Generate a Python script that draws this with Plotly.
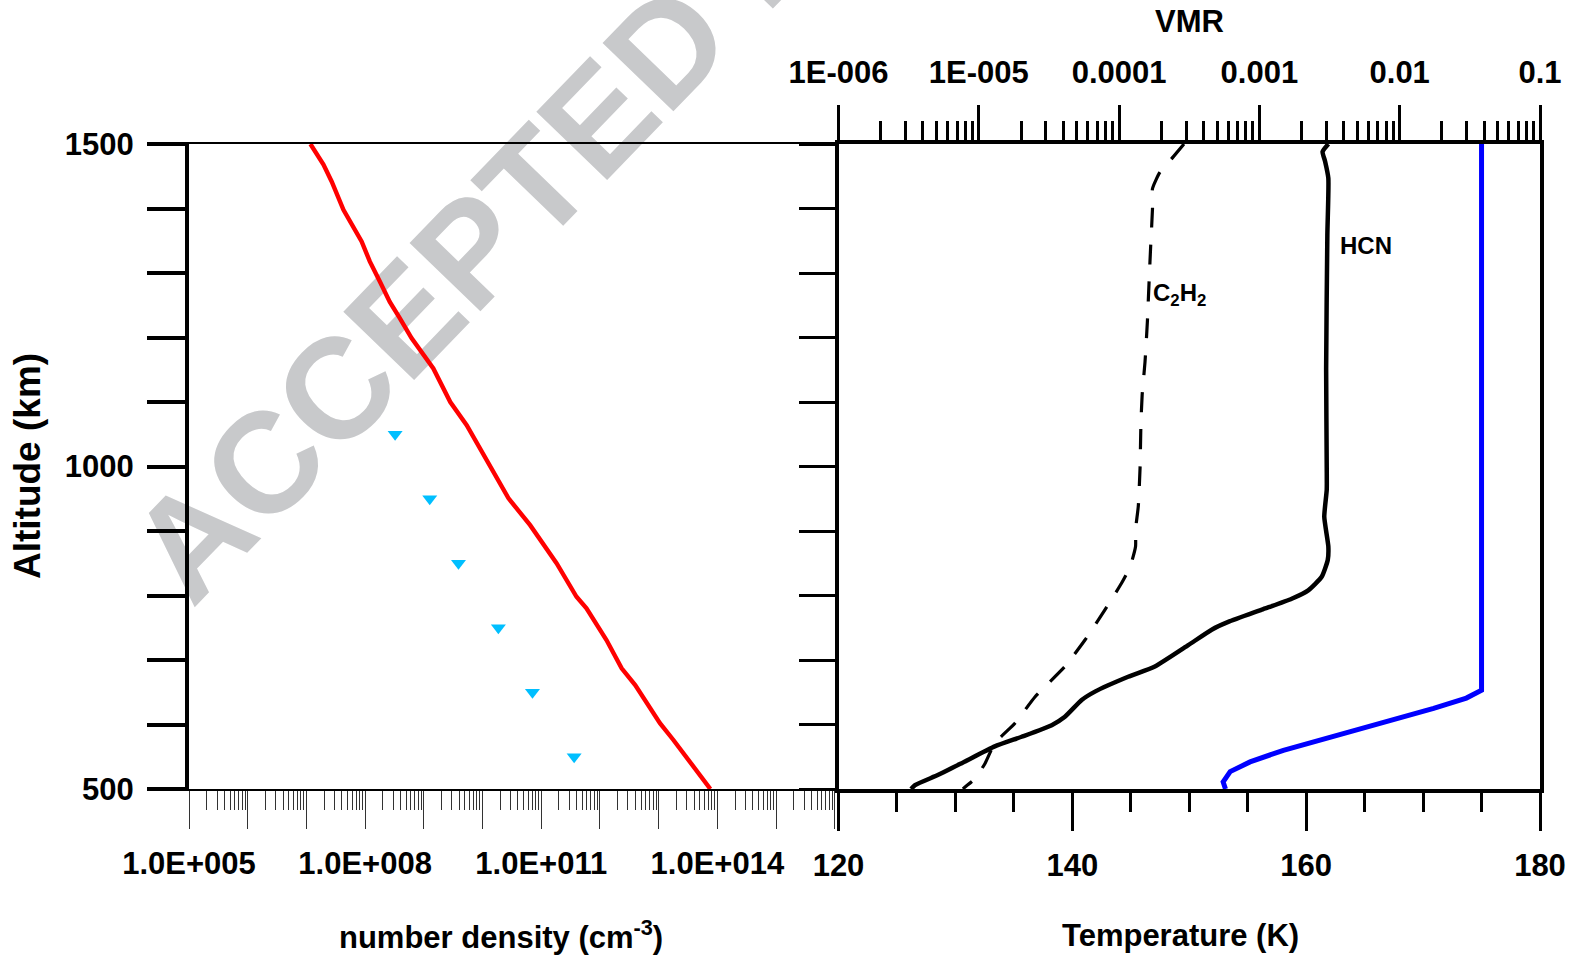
import math
import plotly.graph_objects as go

# ---- Left panel: number density profile (cm^-3) vs altitude (km) ----
density_alt = [1500, 1468, 1442, 1398, 1349, 1318, 1287, 1255, 1230, 1199, 1152, 1100, 1064,
               1010, 951, 909, 850, 798, 780, 731, 687, 661, 602, 576, 535, 500]
density_n = [1.17e7, 1.95e7, 2.69e7, 4.27e7, 8.71e7, 1.20e8, 1.78e8, 2.63e8, 3.89e8, 6.17e8,
             1.45e9, 2.82e9, 5.37e9, 1.17e10, 2.75e10, 6.46e10, 1.82e11, 3.98e11, 5.89e11,
             1.29e12, 2.34e12, 3.98e12, 1.05e13, 1.78e13, 3.89e13, 7.59e13]

# measured densities (triangles)
meas_alt = [1050, 950, 850, 750, 650, 550]
meas_n = [3.24e8, 1.26e9, 3.89e9, 1.86e10, 7.08e10, 3.63e11]

# ---- Right panel: temperature (K) ----
temp_alt = [500, 511, 527, 542, 560, 581, 602, 625, 641, 653, 1500]
temp_K = [153.1, 152.9, 153.5, 155.2, 158.05, 162.3, 166.6, 170.9, 173.7, 175.0, 175.0]

# ---- Right panel: volume mixing ratios ----
hcn_alt = [1500, 1488, 1473, 1447, 1359, 1152, 997, 964, 922, 876, 855, 829, 808, 795, 778,
           759, 747, 723, 690, 674, 651, 638, 612, 599, 581, 566, 540, 522, 506, 500]
hcn_vmr = [3.10e-3, 2.82e-3, 2.94e-3, 3.10e-3, 3.05e-3, 2.99e-3, 3.02e-3, 3.02e-3, 2.90e-3,
           3.10e-3, 3.07e-3, 2.78e-3, 2.23e-3, 1.70e-3, 1.04e-3, 6.00e-4, 4.57e-4, 3.11e-4,
           1.80e-4, 1.16e-4, 6.73e-5, 5.41e-5, 4.11e-5, 3.31e-5, 2.02e-5, 1.30e-5, 7.55e-6,
           5.14e-6, 3.51e-6, 3.29e-6]

c2h2_alt = [1500, 1480, 1456, 1431, 1400, 1343, 1292, 1224, 1162, 1111, 1064, 997, 938, 902,
            876, 845, 819, 778, 731, 690, 643, 602, 571, 540, 516, 503, 500]
c2h2_vmr = [2.90e-4, 2.43e-4, 1.95e-4, 1.73e-4, 1.73e-4, 1.68e-4, 1.64e-4, 1.59e-4, 1.53e-4,
            1.46e-4, 1.43e-4, 1.41e-4, 1.37e-4, 1.31e-4, 1.31e-4, 1.20e-4, 1.04e-4, 7.94e-5,
            5.71e-5, 4.11e-5, 2.52e-5, 1.81e-5, 1.30e-5, 1.11e-5, 9.40e-6, 7.98e-6, 7.71e-6]

# ---- tick definitions ----
alt_ticks = list(range(500, 1501, 100))
alt_labels = ["500", "", "", "", "", "1000", "", "", "", "", "1500"]

dens_ticks = [10.0 ** e for e in range(5, 17)]
dens_labels = ["1.0E+%03d" % e if (e - 5) % 3 == 0 else "" for e in range(5, 17)]
dens_minor = [m * 10.0 ** e for e in range(5, 16) for m in range(2, 10)]

temp_ticks = [120, 140, 160, 180]
temp_labels = ["120", "140", "160", "180"]

vmr_ticks = [1e-6, 1e-5, 1e-4, 1e-3, 1e-2, 1e-1]
vmr_labels = ["1E-006", "1E-005", "0.0001", "0.001", "0.01", "0.1"]
vmr_minor = [m * 10.0 ** e for e in range(-6, -1) for m in range(2, 10)]

W, H = 1580, 955
FONT = "Liberation Sans, Arial, Helvetica, sans-serif"


def px_x(p):
    return p / W


def px_y(p):
    return 1 - p / H


left_dom = [px_x(189), px_x(837)]
right_dom = [px_x(838.5), px_x(1540)]
y_dom = [px_y(789), px_y(144)]

tickfont = dict(family=FONT, size=31, color="black", weight="bold")

fig = go.Figure()

fig.add_trace(go.Scatter(x=density_n, y=density_alt, mode="lines",
                         line=dict(color="#FF0000", width=4.4), xaxis="x", yaxis="y"))
fig.add_trace(go.Scatter(x=meas_n, y=meas_alt, mode="markers",
                         marker=dict(symbol="triangle-down", size=13, color="#00BFFF"),
                         xaxis="x", yaxis="y"))
fig.add_trace(go.Scatter(x=temp_K, y=temp_alt, mode="lines",
                         line=dict(color="#0000FF", width=5), xaxis="x2", yaxis="y2"))
fig.add_trace(go.Scatter(x=hcn_vmr, y=hcn_alt, mode="lines",
                         line=dict(color="black", width=4.5, shape="spline", smoothing=0.5),
                         xaxis="x3", yaxis="y2"))
fig.add_trace(go.Scatter(x=c2h2_vmr, y=c2h2_alt, mode="lines",
                         line=dict(color="black", width=3.2, dash="20px,17px",
                                   shape="spline", smoothing=0.5),
                         xaxis="x3", yaxis="y2"))

fig.update_layout(
    width=W, height=H, autosize=False,
    margin=dict(l=0, r=0, t=0, b=0, pad=0, autoexpand=False),
    paper_bgcolor="white", plot_bgcolor="rgba(0,0,0,0)",
    showlegend=False,
    xaxis=dict(domain=left_dom, type="log", range=[5, 16.037], anchor="y", automargin=False,
               showline=True, linewidth=1.5, linecolor="black", mirror=True,
               ticks="outside", ticklen=38, tickwidth=1, tickcolor="#333",
               tickmode="array", tickvals=dens_ticks, ticktext=dens_labels,
               minor=dict(tickmode="array", tickvals=dens_minor, ticks="outside",
                          ticklen=19, tickwidth=1, tickcolor="#333", showgrid=False),
               showgrid=False, zeroline=False, tickfont=tickfont, ticklabelstandoff=8),
    yaxis=dict(domain=y_dom, range=[500, 1500], anchor="x", automargin=False,
               showline=True, linewidth=4, linecolor="black",
               ticks="outside", ticklen=38, tickwidth=3.5, tickcolor="black",
               tickmode="array", tickvals=alt_ticks, ticktext=alt_labels,
               showgrid=False, zeroline=False, tickfont=tickfont, ticklabelstandoff=7),
    xaxis2=dict(domain=right_dom, range=[120, 180], anchor="y2", automargin=False,
                showline=True, linewidth=3.5, linecolor="black",
                ticks="outside", ticklen=38, tickwidth=3, tickcolor="black",
                tickmode="array", tickvals=temp_ticks, ticktext=temp_labels,
                minor=dict(tickmode="linear", tick0=120, dtick=5, ticks="outside",
                           ticklen=19, tickwidth=3, tickcolor="black", showgrid=False),
                showgrid=False, zeroline=False, tickfont=tickfont, ticklabelstandoff=8),
    yaxis2=dict(domain=y_dom, range=[500, 1500], anchor="x2", automargin=False,
                showline=True, linewidth=3.5, linecolor="black", mirror=True,
                ticks="outside", ticklen=36, tickwidth=3, tickcolor="black",
                tickmode="array", tickvals=alt_ticks, showticklabels=False,
                showgrid=False, zeroline=False),
    xaxis3=dict(overlaying="x2", side="top", anchor="y2", type="log", range=[-6, -1],
                automargin=False,
                showline=True, linewidth=3.5, linecolor="black",
                ticks="outside", ticklen=35, tickwidth=3, tickcolor="black",
                tickmode="array", tickvals=vmr_ticks, ticktext=vmr_labels,
                minor=dict(tickmode="array", tickvals=vmr_minor, ticks="outside",
                           ticklen=19, tickwidth=3, tickcolor="black", showgrid=False),
                showgrid=False, zeroline=False, tickfont=tickfont, ticklabelstandoff=10),
)

title_font = dict(family=FONT, size=31, color="black", weight="bold")
label_font = dict(family=FONT, size=24, color="black", weight="bold")


def note(text, x, y, font, angle=0):
    fig.add_annotation(text=text, x=px_x(x), y=px_y(y), xref="paper", yref="paper",
                       showarrow=False, xanchor="center", yanchor="middle",
                       textangle=angle, font=font)


note("Altitude (km)", 27, 466, dict(title_font, size=37), angle=-90)
note("number density (cm<sup>-3</sup>)", 501, 935, title_font)
note("Temperature (K)", 1180, 935, title_font)
note("VMR", 1189, 22, title_font)
note("HCN", 1366, 245, label_font)
note("C<sub>2</sub>H<sub>2</sub>", 1179, 294, label_font)

# diagonal watermark, drawn beneath the data; label follows the line direction
wm_angle = math.radians(46)
dx, dy = math.cos(wm_angle), -math.sin(wm_angle)
cx, cy, half = 764.6, -74.4, 300
fig.add_shape(type="line", xref="paper", yref="paper", layer="below",
              x0=px_x(cx - half * dx), y0=px_y(cy - half * dy),
              x1=px_x(cx + half * dx), y1=px_y(cy + half * dy),
              line=dict(color="rgba(0,0,0,0)", width=0),
              label=dict(text="ACCEPTED MANUSCRIPT", textposition="middle",
                         yanchor="middle",
                         font=dict(family=FONT, size=143, color="rgb(200,201,203)",
                                   weight="bold")))

fig.write_html("out.html")
